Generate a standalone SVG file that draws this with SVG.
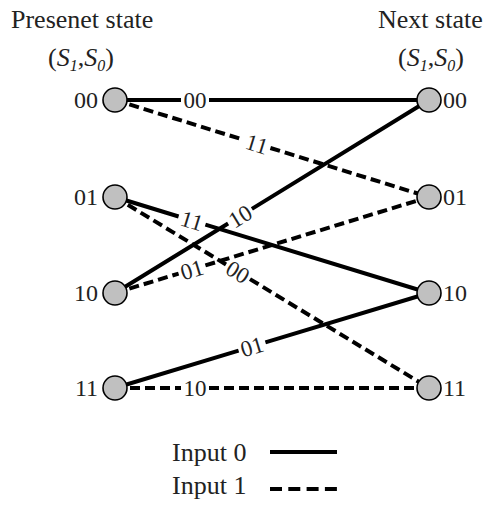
<svg xmlns="http://www.w3.org/2000/svg" width="486" height="505" viewBox="0 0 486 505">
<style>
text{font-family:"Liberation Serif","Times New Roman",serif;fill:#222}
.h{font-size:26px}
.n{font-size:24px}
.l{font-size:23px;text-anchor:middle}
.s{fill:none;stroke:#000;stroke-width:4}
.d{fill:none;stroke:#000;stroke-width:4;stroke-dasharray:10 5}
.node{fill:#c0c0c0;stroke:#000;stroke-width:1.6}
</style>
<rect width="486" height="505" fill="#fff"/>
<g id="headings">
<text class="h" x="11" y="28">Presenet state</text>
<text class="h" x="48" y="66">(<tspan font-style="italic">S</tspan><tspan font-style="italic" font-size="16" dy="5">1</tspan><tspan dy="-5">,</tspan><tspan font-style="italic">S</tspan><tspan font-style="italic" font-size="16" dy="5">0</tspan><tspan dy="-5">)</tspan></text>
<text class="h" x="378" y="28">Next state</text>
<text class="h" x="398" y="66">(<tspan font-style="italic">S</tspan><tspan font-style="italic" font-size="16" dy="5">1</tspan><tspan dy="-5">,</tspan><tspan font-style="italic">S</tspan><tspan font-style="italic" font-size="16" dy="5">0</tspan><tspan dy="-5">)</tspan></text>
</g>
<g id="connectors">
<path class="s" d="M115,100 L181,100 M209,100 L429,100"/>
<path class="d" d="M115,100 L243.6,139.8 M270.4,148 L429,197"/>
<path class="s" d="M115,197 L178.6,216.5 M205.4,224.7 L429,293"/>
<path class="d" d="M115,197 L226,264.5 M250,279.1 L429,388"/>
<path class="s" d="M115,293 L228.1,223.5 M251.9,208.9 L429,100"/>
<path class="d" d="M115,293 L178.6,273.6 M205.4,265.4 L429,197"/>
<path class="s" d="M115,388 L238.6,350.6 M265.4,342.4 L429,293"/>
<path class="d" d="M115,388 L181,388 M209,388 L429,388"/>
</g>
<g id="edge-labels">
<text class="l" transform="translate(195,100)" y="8">00</text>
<text class="l" transform="translate(257,143.9) rotate(17.2)" y="8">11</text>
<text class="l" transform="translate(192,220.6) rotate(17.1)" y="8">11</text>
<text class="l" transform="translate(238,271.8) rotate(31.3)" y="8">00</text>
<text class="l" transform="translate(240,216.2) rotate(-31.6)" y="8">10</text>
<text class="l" transform="translate(192,269.5) rotate(-17)" y="8">01</text>
<text class="l" transform="translate(252,346.5) rotate(-16.8)" y="8">01</text>
<text class="l" transform="translate(195,388)" y="8">10</text>
</g>
<g id="p00"><circle class="node" cx="115" cy="100" r="12"/><text class="n" x="98" y="108" text-anchor="end">00</text></g>
<g id="p01"><circle class="node" cx="115" cy="197" r="12"/><text class="n" x="98" y="205" text-anchor="end">01</text></g>
<g id="p10"><circle class="node" cx="115" cy="293" r="12"/><text class="n" x="98" y="301" text-anchor="end">10</text></g>
<g id="p11"><circle class="node" cx="115" cy="388" r="12"/><text class="n" x="98" y="396" text-anchor="end">11</text></g>
<g id="n00"><circle class="node" cx="429" cy="100" r="12"/><text class="n" x="443" y="108">00</text></g>
<g id="n01"><circle class="node" cx="429" cy="197" r="12"/><text class="n" x="443" y="205">01</text></g>
<g id="n10"><circle class="node" cx="429" cy="293" r="12"/><text class="n" x="443" y="301">10</text></g>
<g id="n11"><circle class="node" cx="429" cy="388" r="12"/><text class="n" x="443" y="396">11</text></g>
<g id="legend">
<text class="h" x="172" y="461">Input 0</text>
<path class="s" d="M270,452 L337,452"/>
<text class="h" x="172" y="494">Input 1</text>
<path class="s" d="M270,489 L337,489" stroke-dasharray="12 6.3"/>
</g>
</svg>
